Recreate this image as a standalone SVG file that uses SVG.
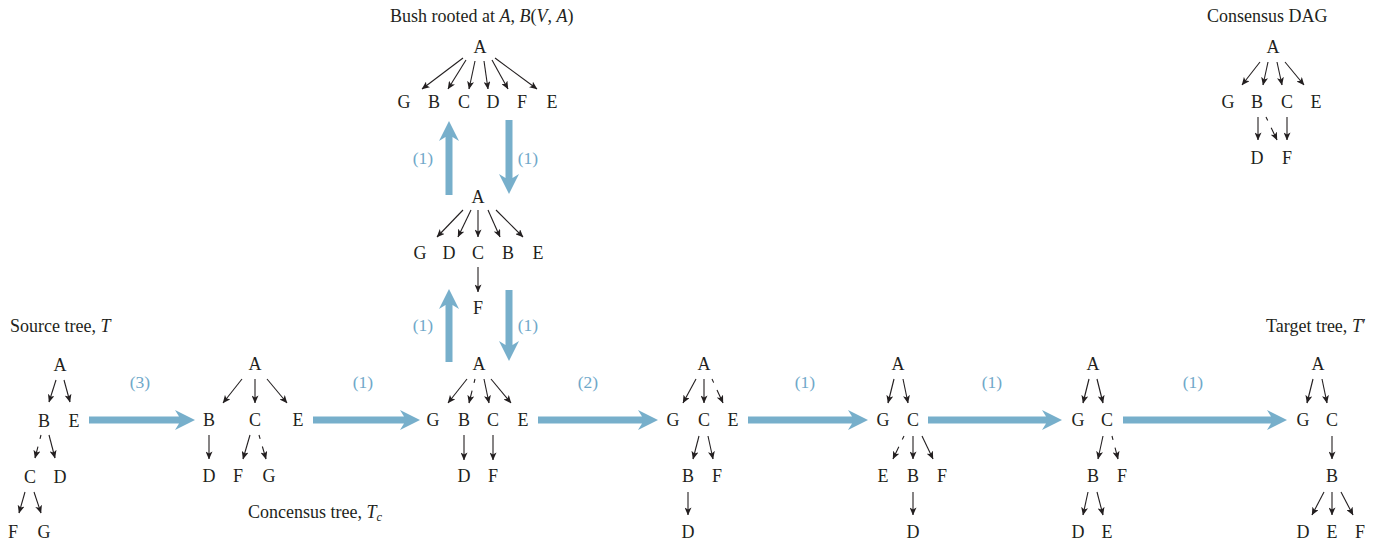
<svg xmlns="http://www.w3.org/2000/svg" width="1389" height="545" viewBox="0 0 1389 545">
<style>
.n{font-family:"Liberation Serif","Times New Roman",serif;font-size:18px;text-anchor:middle;fill:#231f20}
.t{font-family:"Liberation Serif","Times New Roman",serif;font-size:18px;fill:#231f20}
.i{font-style:italic}
.l{font-family:"Liberation Serif","Times New Roman",serif;font-size:17.5px;text-anchor:middle;fill:#6fa8c9}
.e{stroke:#231f20;stroke-width:1.1;fill:none;marker-end:url(#ah)}
.d{stroke-dasharray:4 8 100}
.b{fill:#77afcb}
</style>
<defs>
<marker id="ah" markerUnits="userSpaceOnUse" viewBox="0 0 8 7" markerWidth="8" markerHeight="7" refX="7.6" refY="3.5" orient="auto">
<path d="M0,0 L8,3.5 L0,7 L2,3.5 Z" fill="#231f20"/>
</marker>
</defs>
<rect width="1389" height="545" fill="#ffffff"/>

<g id="titles">
<text class="t" x="390" y="22">Bush rooted at <tspan class="i">A</tspan>, <tspan class="i">B</tspan>(<tspan class="i">V</tspan>, <tspan class="i">A</tspan>)</text>
<text class="t" x="1207" y="22">Consensus DAG</text>
<text class="t" x="10" y="332">Source tree, <tspan class="i">T</tspan></text>
<text class="t" x="1266" y="332">Target tree, <tspan class="i">T</tspan>′</text>
<text class="t" x="248" y="518">Concensus tree, <tspan class="i">T</tspan><tspan class="i" font-size="12.5" dy="3">c</tspan></text>
</g>

<g id="bush">
<g id="bush-A"><text class="n" x="480" y="53">A</text></g>
<g id="bush-G"><text class="n" x="404" y="108">G</text></g>
<g id="bush-B"><text class="n" x="434" y="108">B</text></g>
<g id="bush-C"><text class="n" x="464" y="108">C</text></g>
<g id="bush-D"><text class="n" x="493" y="108">D</text></g>
<g id="bush-F"><text class="n" x="522" y="108">F</text></g>
<g id="bush-E"><text class="n" x="552" y="108">E</text></g>
</g>

<g id="mid">
<g id="mid-A"><text class="n" x="478" y="203">A</text></g>
<g id="mid-G"><text class="n" x="420" y="259">G</text></g>
<g id="mid-D"><text class="n" x="449" y="259">D</text></g>
<g id="mid-C"><text class="n" x="478" y="259">C</text></g>
<g id="mid-B"><text class="n" x="508" y="259">B</text></g>
<g id="mid-E"><text class="n" x="538" y="259">E</text></g>
<g id="mid-F"><text class="n" x="478" y="314">F</text></g>
</g>

<g id="source">
<g id="s-A"><text class="n" x="60" y="371">A</text></g>
<g id="s-B"><text class="n" x="44" y="427">B</text></g>
<g id="s-E"><text class="n" x="74" y="427">E</text></g>
<g id="s-C"><text class="n" x="30" y="483">C</text></g>
<g id="s-D"><text class="n" x="60" y="483">D</text></g>
<g id="s-F"><text class="n" x="13" y="538">F</text></g>
<g id="s-G"><text class="n" x="44" y="538">G</text></g>
</g>

<g id="tc">
<g id="tc-A"><text class="n" x="255" y="370">A</text></g>
<g id="tc-B"><text class="n" x="209" y="426">B</text></g>
<g id="tc-C"><text class="n" x="255" y="426">C</text></g>
<g id="tc-E"><text class="n" x="298" y="426">E</text></g>
<g id="tc-D"><text class="n" x="209" y="482">D</text></g>
<g id="tc-F"><text class="n" x="238" y="482">F</text></g>
<g id="tc-G"><text class="n" x="269" y="482">G</text></g>
</g>

<g id="t3">
<g id="t3-A"><text class="n" x="479" y="370">A</text></g>
<g id="t3-G"><text class="n" x="433" y="426">G</text></g>
<g id="t3-B"><text class="n" x="464" y="426">B</text></g>
<g id="t3-C"><text class="n" x="493" y="426">C</text></g>
<g id="t3-E"><text class="n" x="523" y="426">E</text></g>
<g id="t3-D"><text class="n" x="464" y="482">D</text></g>
<g id="t3-F"><text class="n" x="493" y="482">F</text></g>
</g>

<g id="t4">
<g id="t4-A"><text class="n" x="704" y="370">A</text></g>
<g id="t4-G"><text class="n" x="673" y="426">G</text></g>
<g id="t4-C"><text class="n" x="704" y="426">C</text></g>
<g id="t4-E"><text class="n" x="733" y="426">E</text></g>
<g id="t4-B"><text class="n" x="688" y="482">B</text></g>
<g id="t4-F"><text class="n" x="717" y="482">F</text></g>
<g id="t4-D"><text class="n" x="688" y="538">D</text></g>
</g>

<g id="t5">
<g id="t5-A"><text class="n" x="898" y="370">A</text></g>
<g id="t5-G"><text class="n" x="883" y="426">G</text></g>
<g id="t5-C"><text class="n" x="913" y="426">C</text></g>
<g id="t5-E"><text class="n" x="883" y="482">E</text></g>
<g id="t5-B"><text class="n" x="913" y="482">B</text></g>
<g id="t5-F"><text class="n" x="942" y="482">F</text></g>
<g id="t5-D"><text class="n" x="913" y="538">D</text></g>
</g>

<g id="t6">
<g id="t6-A"><text class="n" x="1093" y="370">A</text></g>
<g id="t6-G"><text class="n" x="1078" y="426">G</text></g>
<g id="t6-C"><text class="n" x="1107" y="426">C</text></g>
<g id="t6-B"><text class="n" x="1093" y="482">B</text></g>
<g id="t6-F"><text class="n" x="1122" y="482">F</text></g>
<g id="t6-D"><text class="n" x="1078" y="538">D</text></g>
<g id="t6-E"><text class="n" x="1107" y="538">E</text></g>
</g>

<g id="target">
<g id="tt-A"><text class="n" x="1318" y="370">A</text></g>
<g id="tt-G"><text class="n" x="1303" y="426">G</text></g>
<g id="tt-C"><text class="n" x="1332" y="426">C</text></g>
<g id="tt-B"><text class="n" x="1332" y="482">B</text></g>
<g id="tt-D"><text class="n" x="1303" y="538">D</text></g>
<g id="tt-E"><text class="n" x="1332" y="538">E</text></g>
<g id="tt-F"><text class="n" x="1360" y="538">F</text></g>
</g>

<g id="dag">
<g id="dag-A"><text class="n" x="1273" y="53">A</text></g>
<g id="dag-G"><text class="n" x="1228" y="108">G</text></g>
<g id="dag-B"><text class="n" x="1257" y="108">B</text></g>
<g id="dag-C"><text class="n" x="1287" y="108">C</text></g>
<g id="dag-E"><text class="n" x="1316" y="108">E</text></g>
<g id="dag-D"><text class="n" x="1257" y="164">D</text></g>
<g id="dag-F"><text class="n" x="1287" y="164">F</text></g>
</g>

<g id="connectors">
<!-- bush -->
<line class="e" x1="463" y1="58" x2="422" y2="89"/>
<line class="e" x1="466" y1="60" x2="448" y2="89"/>
<line class="e" x1="475" y1="61" x2="469" y2="89"/>
<line class="e" x1="484" y1="61" x2="488" y2="89"/>
<line class="e" x1="492" y1="60" x2="508" y2="89"/>
<line class="e" x1="495" y1="58" x2="537" y2="89"/>
<!-- mid -->
<line class="e" x1="463" y1="210" x2="437" y2="237"/>
<line class="e" x1="471" y1="210" x2="458" y2="237"/>
<line class="e" x1="478" y1="210" x2="478" y2="237"/>
<line class="e" x1="488" y1="210" x2="500" y2="237"/>
<line class="e" x1="496" y1="210" x2="523" y2="237"/>
<line class="e" x1="478" y1="267" x2="478" y2="292"/>
<!-- source -->
<line class="e" x1="56" y1="380" x2="49" y2="402"/>
<line class="e" x1="64" y1="380" x2="70" y2="402"/>
<line class="e d" x1="41" y1="435" x2="35" y2="458"/>
<line class="e" x1="49" y1="435" x2="55" y2="458"/>
<line class="e" x1="25" y1="492" x2="19" y2="513"/>
<line class="e" x1="34" y1="492" x2="41" y2="513"/>
<!-- tc -->
<line class="e" x1="242" y1="379" x2="223" y2="403"/>
<line class="e" x1="255" y1="379" x2="255" y2="403"/>
<line class="e" x1="267" y1="379" x2="287" y2="403"/>
<line class="e" x1="209" y1="435" x2="209" y2="459"/>
<line class="e" x1="250" y1="435" x2="243" y2="459"/>
<line class="e d" x1="259" y1="435" x2="266" y2="459"/>
<!-- t3 -->
<line class="e" x1="467" y1="379" x2="448" y2="403"/>
<line class="e d" x1="475" y1="379" x2="469" y2="403"/>
<line class="e" x1="484" y1="379" x2="489" y2="403"/>
<line class="e" x1="491" y1="379" x2="511" y2="403"/>
<line class="e" x1="464" y1="435" x2="464" y2="460"/>
<line class="e" x1="493" y1="435" x2="493" y2="460"/>
<!-- t4 -->
<line class="e" x1="696" y1="379" x2="683" y2="403"/>
<line class="e" x1="704" y1="379" x2="704" y2="403"/>
<line class="e d" x1="712" y1="379" x2="723" y2="403"/>
<line class="e" x1="699" y1="436" x2="693" y2="459"/>
<line class="e" x1="708" y1="436" x2="713" y2="459"/>
<line class="e" x1="688" y1="492" x2="688" y2="515"/>
<!-- t5 -->
<line class="e" x1="894" y1="379" x2="888" y2="403"/>
<line class="e" x1="903" y1="379" x2="908" y2="403"/>
<line class="e d" x1="904" y1="436" x2="893" y2="459"/>
<line class="e" x1="913" y1="436" x2="913" y2="459"/>
<line class="e" x1="922" y1="436" x2="933" y2="459"/>
<line class="e" x1="913" y1="492" x2="913" y2="515"/>
<!-- t6 -->
<line class="e" x1="1089" y1="379" x2="1083" y2="403"/>
<line class="e" x1="1097" y1="379" x2="1103" y2="403"/>
<line class="e" x1="1103" y1="436" x2="1098" y2="459"/>
<line class="e d" x1="1112" y1="436" x2="1118" y2="459"/>
<line class="e" x1="1088" y1="492" x2="1083" y2="515"/>
<line class="e" x1="1097" y1="492" x2="1103" y2="515"/>
<!-- target -->
<line class="e" x1="1313" y1="379" x2="1307" y2="403"/>
<line class="e" x1="1322" y1="379" x2="1327" y2="403"/>
<line class="e" x1="1332" y1="436" x2="1332" y2="459"/>
<line class="e" x1="1324" y1="492" x2="1312" y2="515"/>
<line class="e" x1="1332" y1="492" x2="1332" y2="515"/>
<line class="e" x1="1341" y1="492" x2="1353" y2="515"/>
<!-- dag -->
<line class="e" x1="1260" y1="62" x2="1242" y2="85"/>
<line class="e" x1="1268" y1="62" x2="1263" y2="85"/>
<line class="e" x1="1277" y1="62" x2="1282" y2="85"/>
<line class="e" x1="1285" y1="62" x2="1304" y2="85"/>
<line class="e" x1="1258" y1="117" x2="1258" y2="140"/>
<line class="e d" x1="1266" y1="117" x2="1277" y2="140"/>
<line class="e" x1="1287" y1="117" x2="1287" y2="140"/>

<!-- blue transformation arrows -->
<path class="b" d="M89,416.5 H179 L175,410 L195,420 L175,430 L179,423.5 H89 Z"/>
<path class="b" d="M313,416.5 H404 L400,410 L420,420 L400,430 L404,423.5 H313 Z"/>
<path class="b" d="M538,416.5 H642 L638,410 L658,420 L638,430 L642,423.5 H538 Z"/>
<path class="b" d="M748,416.5 H852 L848,410 L868,420 L848,430 L852,423.5 H748 Z"/>
<path class="b" d="M928,416.5 H1046 L1042,410 L1062,420 L1042,430 L1046,423.5 H928 Z"/>
<path class="b" d="M1123,416.5 H1271 L1267,410 L1287,420 L1267,430 L1271,423.5 H1123 Z"/>
<path class="b" d="M445.5,195 V137 L439,141 L449,121 L459,141 L452.5,137 V195 Z"/>
<path class="b" d="M505.5,120 V178 L499,174 L509,194 L519,174 L512.5,178 V120 Z"/>
<path class="b" d="M445.5,362 V305 L439,309 L449,289 L459,309 L452.5,305 V362 Z"/>
<path class="b" d="M505.5,290 V345 L499,341 L509,361 L519,341 L512.5,345 V290 Z"/>
<text class="l" x="140" y="388">(3)</text>
<text class="l" x="363" y="388">(1)</text>
<text class="l" x="588" y="388">(2)</text>
<text class="l" x="805" y="388">(1)</text>
<text class="l" x="992" y="388">(1)</text>
<text class="l" x="1193" y="388">(1)</text>
<text class="l" x="423" y="164">(1)</text>
<text class="l" x="528" y="164">(1)</text>
<text class="l" x="423" y="331">(1)</text>
<text class="l" x="528" y="331">(1)</text>
</g>
</svg>
